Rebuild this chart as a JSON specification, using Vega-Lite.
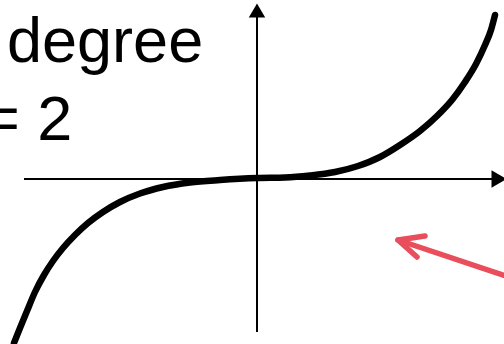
{
  "$schema": "https://vega.github.io/schema/vega-lite/v6.json",
  "width": 504,
  "height": 344,
  "autosize": "none",
  "padding": 0,
  "background": "white",
  "config": {"view": {"stroke": null}},
  "datasets": {
    "axes": [
      {"x": -2.33, "y": 0, "x2": 2.40, "y2": 0},
      {"x": 0, "y": -1.53, "x2": 0, "y2": 1.62}
    ],
    "yhead": [{"x": 0, "y": 1.685}],
    "xhead": [{"x": 2.42, "y": 0}],
    "curve": [
      {"x": -2.43, "y": -1.64},
      {"x": -2.37, "y": -1.49},
      {"x": -2.30, "y": -1.32},
      {"x": -2.22, "y": -1.13},
      {"x": -2.13, "y": -0.96},
      {"x": -2.04, "y": -0.82},
      {"x": -1.94, "y": -0.69},
      {"x": -1.82, "y": -0.56},
      {"x": -1.69, "y": -0.44},
      {"x": -1.54, "y": -0.33},
      {"x": -1.37, "y": -0.23},
      {"x": -1.17, "y": -0.145},
      {"x": -0.94, "y": -0.08},
      {"x": -0.67, "y": -0.035},
      {"x": -0.37, "y": -0.01},
      {"x": 0, "y": 0.01},
      {"x": 0.28, "y": 0.015},
      {"x": 0.53, "y": 0.035},
      {"x": 0.78, "y": 0.07},
      {"x": 1.01, "y": 0.13},
      {"x": 1.23, "y": 0.22},
      {"x": 1.43, "y": 0.34},
      {"x": 1.63, "y": 0.48},
      {"x": 1.80, "y": 0.63},
      {"x": 1.95, "y": 0.79},
      {"x": 2.08, "y": 0.97},
      {"x": 2.19, "y": 1.15},
      {"x": 2.28, "y": 1.34},
      {"x": 2.34, "y": 1.49},
      {"x": 2.38, "y": 1.64}
    ],
    "pointer": [
      {"part": "head", "i": 0, "x": 1.68, "y": -0.57},
      {"part": "head", "i": 1, "x": 1.41, "y": -0.61},
      {"part": "head", "i": 2, "x": 1.60, "y": -0.78},
      {"part": "shaft", "i": 0, "x": 1.41, "y": -0.61},
      {"part": "shaft", "i": 1, "x": 2.58, "y": -1.00}
    ],
    "labels": [
      {"x": -2.50, "y": 1.17, "text": "degree"},
      {"x": -2.74, "y": 0.39, "text": "= 2"}
    ]
  },
  "encoding": {
    "x": {"field": "x", "type": "quantitative", "axis": null, "scale": {"domain": [-2.57, 2.47], "nice": false, "zero": false}},
    "y": {"field": "y", "type": "quantitative", "axis": null, "scale": {"domain": [-1.65, 1.79], "nice": false, "zero": false}}
  },
  "layer": [
    {
      "data": {"name": "axes"},
      "mark": {"type": "rule", "color": "black", "strokeWidth": 2},
      "encoding": {
        "x2": {"field": "x2"},
        "y2": {"field": "y2"}
      }
    },
    {
      "data": {"name": "yhead"},
      "mark": {"type": "point", "shape": "triangle-up", "filled": true, "color": "black", "opacity": 1, "size": 270}
    },
    {
      "data": {"name": "xhead"},
      "mark": {"type": "point", "shape": "triangle-right", "filled": true, "color": "black", "opacity": 1, "size": 300}
    },
    {
      "data": {"name": "curve"},
      "mark": {"type": "line", "color": "black", "strokeWidth": 6.5, "strokeCap": "round", "interpolate": "monotone"}
    },
    {
      "data": {"name": "pointer"},
      "mark": {"type": "line", "color": "#E84E5C", "strokeWidth": 5.5, "strokeCap": "round", "strokeJoin": "round"},
      "encoding": {
        "detail": {"field": "part"},
        "order": {"field": "i", "type": "quantitative"}
      }
    },
    {
      "data": {"name": "labels"},
      "mark": {"type": "text", "align": "left", "baseline": "alphabetic", "font": "Liberation Sans", "fontSize": 63, "color": "black"},
      "encoding": {
        "text": {"field": "text"}
      }
    }
  ]
}
